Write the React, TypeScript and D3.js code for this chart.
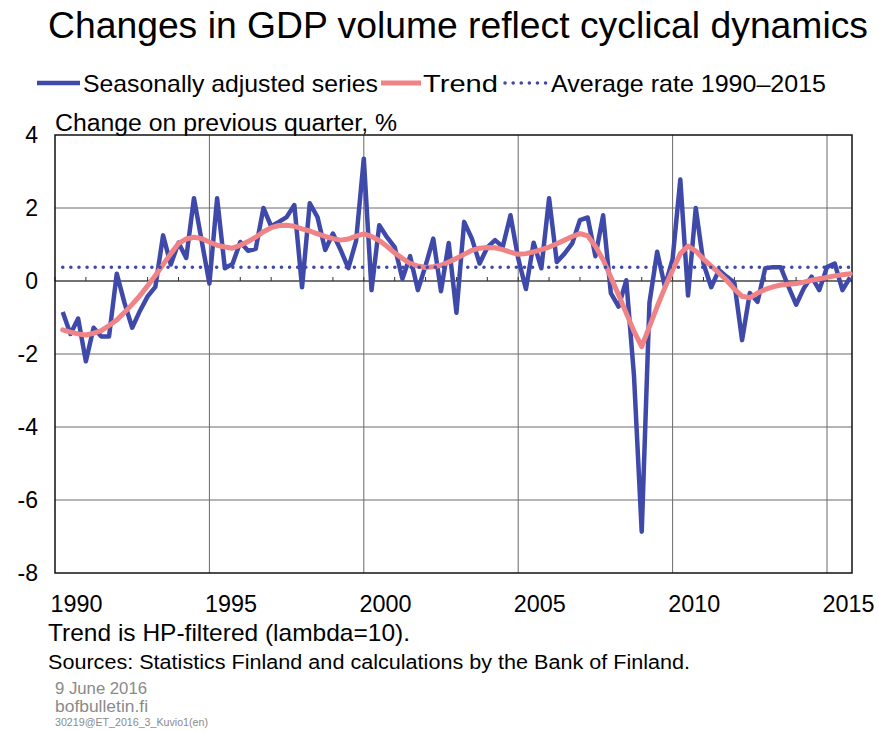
import React from "react";
import * as d3 from "d3";

// ---- Data ----
const firstQuarterTime = 1990.25; // position of first plotted quarter
const seasonallyAdjusted: number[] = [
  -0.85, -1.45, -1.03, -2.2, -1.28, -1.52, -1.52, 0.2, -0.6, -1.28,
  -0.82, -0.42, -0.16, 1.25, 0.45, 1.05, 0.63, 2.27, 1.1, -0.07,
  2.27, 0.35, 0.47, 1.07, 0.83, 0.88, 2.0, 1.5, 1.62, 1.75,
  2.08, -0.17, 2.13, 1.75, 0.85, 1.3, 0.85, 0.35, 1.1, 3.35,
  -0.25, 1.53, 1.2, 0.93, 0.06, 0.68, -0.25, 0.42, 1.16, -0.28,
  1.04, -0.87, 1.62, 1.16, 0.48, 0.92, 1.12, 0.94, 1.8, 0.62,
  -0.22, 1.05, 0.35, 2.27, 0.52, 0.75, 1.03, 1.67, 1.74, 0.68,
  1.8, -0.33, -0.7, 0.02, -2.6, -6.87, -0.6, 0.8, -0.15, 0.6,
  2.78, -0.4, 2.0, 0.48, -0.17, 0.3, 0.12, -0.05, -1.62, -0.33,
  -0.57, 0.35, 0.38, 0.38, -0.15, -0.65, -0.2, 0.12, -0.25, 0.38,
  0.48, -0.25, 0.1,
];
const trend: number[] = [
  -1.34, -1.4, -1.45, -1.48, -1.43, -1.36, -1.22, -1.07, -0.86, -0.64,
  -0.4, -0.13, 0.15, 0.45, 0.75, 1.03, 1.15, 1.2, 1.16, 1.07,
  0.98, 0.93, 0.9, 0.98, 1.08, 1.2, 1.35, 1.46, 1.52, 1.53,
  1.5, 1.43, 1.37, 1.29, 1.22, 1.16, 1.12, 1.15, 1.23, 1.29,
  1.22, 1.11, 0.95, 0.77, 0.62, 0.48, 0.41, 0.37, 0.39, 0.43,
  0.52, 0.62, 0.73, 0.84, 0.9, 0.92, 0.91, 0.86, 0.79, 0.73,
  0.75, 0.8, 0.86, 0.93, 1.02, 1.12, 1.22, 1.3, 1.24, 0.95,
  0.58, 0.1, -0.38, -0.88, -1.38, -1.8, -1.25, -0.7, -0.18, 0.3,
  0.75, 0.96, 0.82, 0.6, 0.41, 0.22, 0.02, -0.22, -0.42, -0.46,
  -0.33, -0.23, -0.16, -0.11, -0.09, -0.07, -0.03, 0.02, 0.06, 0.1,
  0.14, 0.17, 0.2,
];
const averageRate = 0.38;
const yTicks: number[] = [4, 2, 0, -2, -4, -6, -8];
const yearLabels: number[] = [1990, 1995, 2000, 2005, 2010, 2015];

const BLUE = "#3F49A9";
const PINK = "#F08385";
const FONT = "'Liberation Sans', Arial, sans-serif";

export default function App() {
  const W = 879;
  const H = 731;
  const left = 55;
  const right = 852;
  const top = 135;
  const bottom = 573;
  const x = d3.scaleLinear().domain([1990, 2015]).range([left, 827]);
  const y = d3.scaleLinear().domain([-8, 4]).range([bottom, top]);

  const times = seasonallyAdjusted.map((_, i) => firstQuarterTime + i * 0.25);
  const line = d3
    .line<number>()
    .x((_, i) => x(times[i]))
    .y((d) => y(d))
    .curve(d3.curveLinear);

  const allYears = d3.range(1990, 2016);
  const gridYears = yearLabels.filter((yr) => yr > 1990);

  return (
    <svg
      width={W}
      height={H}
      viewBox={`0 0 ${W} ${H}`}
      style={{ position: "absolute", left: 0, top: 0, background: "#fff" }}
    >
      <rect x={0} y={0} width={W} height={H} fill="#fff" />
      {/* Title */}
      <text x={48} y={38} fontFamily={FONT} fontSize={37} fill="#000" textLength={820} lengthAdjust="spacingAndGlyphs">
        Changes in GDP volume reflect cyclical dynamics
      </text>
      {/* Legend */}
      <line x1={37} x2={80} y1={83} y2={83} stroke={BLUE} strokeWidth={4.5} />
      <text x={83} y={92} fontFamily={FONT} fontSize={24} textLength={295} lengthAdjust="spacingAndGlyphs">
        Seasonally adjusted series
      </text>
      <line x1={381} x2={421} y1={83} y2={83} stroke={PINK} strokeWidth={5} />
      <text x={423} y={92} fontFamily={FONT} fontSize={24} textLength={75} lengthAdjust="spacingAndGlyphs">
        Trend
      </text>
      <line x1={505} x2={548} y1={83} y2={83} stroke={BLUE} strokeWidth={3.5} strokeDasharray="0.1 8" strokeLinecap="round" />
      <text x={551} y={92} fontFamily={FONT} fontSize={24} textLength={275} lengthAdjust="spacingAndGlyphs">
        Average rate 1990–2015
      </text>
      {/* Axis title */}
      <text x={55} y={131} fontFamily={FONT} fontSize={23} textLength={342} lengthAdjust="spacingAndGlyphs">
        Change on previous quarter, %
      </text>

      {/* Gridlines */}
      {yTicks
        .filter((t) => t !== 4 && t !== -8)
        .map((t) => (
          <line key={"gy" + t} x1={left} x2={right} y1={y(t)} y2={y(t)} stroke="#6a6a6a" strokeWidth={1} />
        ))}
      {gridYears.map((yr) => (
        <line key={"gx" + yr} x1={x(yr)} x2={x(yr)} y1={top} y2={bottom} stroke="#6a6a6a" strokeWidth={1} />
      ))}
      {/* Year ticks on zero line */}
      {allYears.map((yr) => (
        <line key={"tk" + yr} x1={x(yr)} x2={x(yr)} y1={y(0) - 4} y2={y(0)} stroke="#333" strokeWidth={1} />
      ))}
      <line x1={left} x2={right} y1={y(0)} y2={y(0)} stroke="#333" strokeWidth={1.2} />
      {/* Frame */}
      <rect x={left} y={top} width={right - left} height={bottom - top} fill="none" stroke="#111" strokeWidth={1.5} />

      {/* Y tick labels */}
      {yTicks.map((t) => (
        <text key={"yl" + t} x={38} y={y(t) + 8} textAnchor="end" fontFamily={FONT} fontSize={23}>
          {t}
        </text>
      ))}
      {/* X labels */}
      {yearLabels.map((yr) => (
        <text key={"xl" + yr} x={x(yr + 0.7)} y={612} textAnchor="middle" fontFamily={FONT} fontSize={24} textLength={52} lengthAdjust="spacingAndGlyphs">
          {yr}
        </text>
      ))}

      {/* Series */}
      <path d={line(seasonallyAdjusted) || ""} fill="none" stroke={BLUE} strokeWidth={4.5} strokeLinejoin="round" />
      <path d={line(trend) || ""} fill="none" stroke={PINK} strokeWidth={5} strokeLinejoin="round" strokeLinecap="round" />
      <line
        x1={x(times[0])}
        x2={x(times[times.length - 1])}
        y1={y(averageRate)}
        y2={y(averageRate)}
        stroke={BLUE}
        strokeWidth={3.5}
        strokeDasharray="0.1 8"
        strokeLinecap="round"
      />

      {/* Notes */}
      <text x={48} y={641} fontFamily={FONT} fontSize={24} textLength={362} lengthAdjust="spacingAndGlyphs">
        Trend is HP-filtered (lambda=10).
      </text>
      <text x={48} y={669} fontFamily={FONT} fontSize={20} textLength={642} lengthAdjust="spacingAndGlyphs">
        Sources: Statistics Finland and calculations by the Bank of Finland.
      </text>
      <text x={55} y={694} fontFamily={FONT} fontSize={16} fill="#8a8a8a" textLength={92} lengthAdjust="spacingAndGlyphs">
        9 June 2016
      </text>
      <text x={55} y={712} fontFamily={FONT} fontSize={16} fill="#8a8a8a" textLength={93} lengthAdjust="spacingAndGlyphs">
        bofbulletin.fi
      </text>
      <text x={55} y={726} fontFamily={FONT} fontSize={10} fill="#8a8a8a" textLength={153} lengthAdjust="spacingAndGlyphs">
        30219@ET_2016_3_Kuvio1(en)
      </text>
    </svg>
  );
}
